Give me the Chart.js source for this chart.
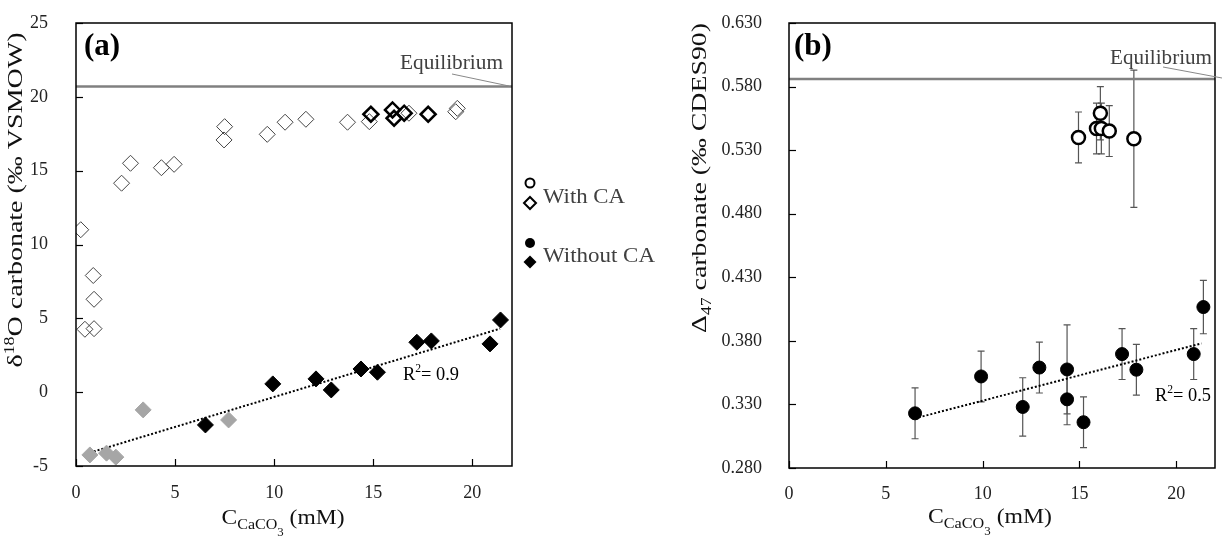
<!DOCTYPE html>
<html><head><meta charset="utf-8">
<script src="https://cdn.jsdelivr.net/npm/chart.js@4.4.1/dist/chart.umd.min.js"></script>
<style>
html,body{margin:0;padding:0;background:#fff;width:1224px;height:544px;overflow:hidden}
#ca{position:absolute;left:0;top:0}
#cb{position:absolute;left:680px;top:0}
</style></head><body>
<canvas id="ca" width="680" height="544"></canvas>
<canvas id="cb" width="544" height="544"></canvas>
<script>
// ---------- DATA ----------
// Panel (a): δ18O carbonate (‰ VSMOW) vs C_CaCO3 (mM)
const withCA_x      = [0.24, 2.3, 2.75, 4.31, 4.95, 7.5, 7.47, 9.65, 10.55, 11.6, 13.7, 14.8, 16.8, 19.24, 19.16, 0.87, 0.91, 0.45, 0.91];
const withCA_d18O   = [11.0, 14.15, 15.5, 15.2, 15.43, 17.98, 17.08, 17.46, 18.28, 18.48, 18.28, 18.32, 18.89, 19.22, 18.99, 7.9, 6.29, 4.26, 4.3];
const withCAclumped_x    = [14.88, 15.97, 16.05, 16.56, 17.77];
const withCAclumped_d18O = [18.82, 19.11, 18.55, 18.89, 18.82];
const withoutCAgray_x    = [0.70, 1.54, 2.01, 3.39, 7.7];
const withoutCAgray_d18O = [-4.25, -4.13, -4.4, -1.2, -1.88];
const withoutCA_x    = [6.53, 9.93, 12.11, 12.88, 14.38, 15.21, 17.2, 17.93, 20.89, 21.42];
const withoutCA_d18O = [-2.22, 0.56, 0.9, 0.15, 1.57, 1.35, 3.38, 3.47, 3.27, 4.89];
const trendA_x = [0.7, 21.4];
const trendA_y = [-4.1, 4.3];
const equilibriumA = 20.7;
const r2A_value = '= 0.9';

// Panel (b): Δ47 carbonate (‰ CDES90) vs C_CaCO3 (mM)
const withCA_b_x   = [14.95, 16.08, 15.88, 16.13, 16.54, 17.81];
const withCA_D47   = [0.540, 0.559, 0.547, 0.547, 0.545, 0.539];
const withCA_err   = [0.020, 0.021, 0.020, 0.020, 0.020, 0.054];
const withoutCA_b_x = [6.51, 9.92, 12.07, 12.93, 14.36, 14.36, 15.21, 17.2, 17.94, 20.9, 21.4];
const withoutCA_D47 = [0.323, 0.352, 0.328, 0.359, 0.3575, 0.334, 0.316, 0.3696, 0.3573, 0.3696, 0.4066];
const withoutCA_err = [0.020, 0.020, 0.023, 0.020, 0.035, 0.020, 0.020, 0.020, 0.020, 0.020, 0.021];
const trendB_x = [6.5, 21.3];
const trendB_y = [0.319, 0.378];
const equilibriumB = 0.586;
const r2B_value = '= 0.5';

const xTicksLabels = [0, 5, 10, 15, 20];

// ---------- helpers ----------
const SERIF = '"Liberation Serif", "Times New Roman", serif';
Chart.defaults.font.family = SERIF;
function font(size, bold){ return (bold ? 'bold ' : '') + size + 'px ' + SERIF; }
function pts(xs, ys){ return xs.map((x, i) => ({x: x, y: ys[i]})); }
function drawRich(ctx, x, y, segs, opts){
  let w = 0;
  segs.forEach(s => { ctx.font = font(s.size, s.bold); s.w = ctx.measureText(s.t).width; w += s.w; });
  const sx = opts.width ? opts.width / w : 1;
  ctx.save();
  ctx.translate(x, y);
  if (opts.rotate) ctx.rotate(opts.rotate);
  ctx.scale(sx, 1);
  let cx = opts.align === 'center' ? -w / 2 : (opts.align === 'right' ? -w : 0);
  ctx.fillStyle = opts.color || '#000';
  ctx.textBaseline = 'alphabetic'; ctx.textAlign = 'left';
  segs.forEach(s => { ctx.font = font(s.size, s.bold); ctx.fillText(s.t, cx, s.dy || 0); cx += s.w; });
  ctx.restore();
}
function drawFrame(chart){
  const {ctx, chartArea: a, scales: {x, y}} = chart;
  ctx.save();
  ctx.strokeStyle = '#000'; ctx.lineWidth = 1.5;
  ctx.strokeRect(a.left, a.top, a.right - a.left, a.bottom - a.top);
  ctx.lineWidth = 1.2;
  y.ticks.forEach(t => { const py = Math.round(y.getPixelForValue(t.value)) + 0.5;
    ctx.beginPath(); ctx.moveTo(a.left, py); ctx.lineTo(a.left + 7, py); ctx.stroke(); });
  x.ticks.forEach(t => { const px = Math.round(x.getPixelForValue(t.value)) + 0.5;
    ctx.beginPath(); ctx.moveTo(px, a.bottom); ctx.lineTo(px, a.bottom - 7); ctx.stroke(); });
  ctx.restore();
}
function drawErr(chart, xs, ys, es){
  const {ctx, scales: {x, y}} = chart;
  ctx.save(); ctx.strokeStyle = '#555'; ctx.lineWidth = 1.2;
  xs.forEach((xv, i) => {
    const px = x.getPixelForValue(xv);
    const y1 = y.getPixelForValue(ys[i] + es[i]);
    const y2 = y.getPixelForValue(ys[i] - es[i]);
    ctx.beginPath();
    ctx.moveTo(px, y1); ctx.lineTo(px, y2);
    ctx.moveTo(px - 3.5, y1); ctx.lineTo(px + 3.5, y1);
    ctx.moveTo(px - 3.5, y2); ctx.lineTo(px + 3.5, y2);
    ctx.stroke();
  });
  ctx.restore();
}
function diamond(ctx, cx, cy, r){ ctx.beginPath(); ctx.moveTo(cx, cy - r); ctx.lineTo(cx + r, cy); ctx.lineTo(cx, cy + r); ctx.lineTo(cx - r, cy); ctx.closePath(); }

function commonScales(yMin, yMax, yStep, yFmt, yPad, yWidth, xHeight, xPad){
  return {
    x: { type: 'linear', min: 0, max: 22,
         afterBuildTicks: s => { s.ticks = xTicksLabels.map(v => ({value: v})); },
         ticks: { font: {size: 18, family: SERIF}, color: '#222', padding: xPad, maxRotation: 0 },
         grid: { display: false, drawTicks: false }, border: { display: false },
         afterFit: s => { s.height = xHeight; s.paddingLeft = 0; s.paddingRight = 0; s.paddingTop = 0; s.paddingBottom = 0; } },
    y: { type: 'linear', min: yMin, max: yMax,
         ticks: { stepSize: yStep, includeBounds: false, font: {size: 18, family: SERIF}, color: '#222', padding: yPad,
                  callback: yFmt },
         grid: { display: false, drawTicks: false }, border: { display: false },
         afterFit: s => { s.width = yWidth; s.paddingTop = 0; s.paddingBottom = 0; s.paddingLeft = 0; s.paddingRight = 0; } }
  };
}

// ---------- Chart (a) ----------
const plugA = {
  id: 'plugA',
  afterDatasetsDraw(chart){
    const ctx = chart.ctx;
    drawFrame(chart);
    drawRich(ctx, 84, 55, [{t: '(a)', size: 31, bold: true}], {align: 'left'});
    drawRich(ctx, 400, 69, [{t: 'Equilibrium', size: 20}], {align: 'left', width: 103, color: '#404040'});
    ctx.save(); ctx.strokeStyle = '#888'; ctx.lineWidth = 1;
    ctx.beginPath(); ctx.moveTo(452, 74); ctx.lineTo(509, 86); ctx.stroke(); ctx.restore();
    drawRich(ctx, 403, 380, [{t: 'R', size: 19}, {t: '2', size: 12, dy: -8}, {t: r2A_value, size: 19}], {align: 'left', width: 56});
    drawRich(ctx, 283, 524, [{t: 'C', size: 22}, {t: 'CaCO', size: 15, dy: 5}, {t: '3', size: 12, dy: 12}, {t: ' (mM)', size: 22}],
             {align: 'center', width: 123, color: '#111'});
    drawRich(ctx, 22, 200, [{t: 'δ', size: 22}, {t: '18', size: 14, dy: -8}, {t: 'O carbonate (‰ VSMOW)', size: 22}],
             {align: 'center', width: 335, rotate: -Math.PI / 2, color: '#111'});
    // legend
    ctx.save();
    ctx.strokeStyle = '#000'; ctx.lineWidth = 2;
    ctx.beginPath(); ctx.arc(530, 183, 4.5, 0, Math.PI * 2); ctx.stroke();
    diamond(ctx, 530, 203, 6); ctx.stroke();
    ctx.fillStyle = '#000';
    ctx.beginPath(); ctx.arc(530, 243, 5, 0, Math.PI * 2); ctx.fill();
    diamond(ctx, 530, 262, 6.5); ctx.fill();
    ctx.restore();
    drawRich(ctx, 543, 203, [{t: 'With CA', size: 20}], {align: 'left', width: 82, color: '#404040'});
    drawRich(ctx, 543, 262, [{t: 'Without CA', size: 20}], {align: 'left', width: 112, color: '#404040'});
  }
};

new Chart(document.getElementById('ca'), {
  type: 'scatter',
  data: { datasets: [
    { label: 'With CA (clumped subset)', data: pts(withCAclumped_x, withCAclumped_d18O), pointStyle: 'rectRot', pointRadius: 7.5,
      borderColor: '#000', borderWidth: 2.5, backgroundColor: 'rgba(0,0,0,0)' },
    { label: 'With CA', data: pts(withCA_x, withCA_d18O), pointStyle: 'rectRot', pointRadius: 8,
      borderColor: '#444', borderWidth: 1, backgroundColor: 'rgba(0,0,0,0)' },
    { label: 'Without CA', data: pts(withoutCA_x, withoutCA_d18O), pointStyle: 'rectRot', pointRadius: 8,
      borderColor: '#000', borderWidth: 1, backgroundColor: '#000' },
    { label: 'Without CA (grey)', data: pts(withoutCAgray_x, withoutCAgray_d18O), pointStyle: 'rectRot', pointRadius: 8,
      borderColor: '#a6a6a6', borderWidth: 1, backgroundColor: '#a6a6a6' },
    { label: 'trend', data: pts(trendA_x, trendA_y), showLine: true, pointRadius: 0, borderColor: '#000',
      borderWidth: 2, borderDash: [2, 2] },
    { label: 'Equilibrium', data: pts([0, 22], [equilibriumA, equilibriumA]), showLine: true, pointRadius: 0,
      borderColor: '#808080', borderWidth: 2.5 }
  ]},
  options: {
    responsive: false, animation: false, events: [],
    layout: { padding: { left: 0, top: 23, right: 168, bottom: 0 } },
    plugins: { legend: { display: false }, tooltip: { enabled: false } },
    scales: commonScales(-5, 25, 5, v => String(v), 28, 76, 78, 16)
  },
  plugins: [plugA]
});

// ---------- Chart (b) ----------
const OX = 680;
const plugB = {
  id: 'plugB',
  beforeDatasetsDraw(chart){
    drawErr(chart, withoutCA_b_x, withoutCA_D47, withoutCA_err);
    drawErr(chart, withCA_b_x, withCA_D47, withCA_err);
  },
  afterDatasetsDraw(chart){
    const ctx = chart.ctx;
    drawFrame(chart);
    drawRich(ctx, 794 - OX, 55, [{t: '(b)', size: 31, bold: true}], {align: 'left'});
    drawRich(ctx, 1110 - OX, 64, [{t: 'Equilibrium', size: 20}], {align: 'left', width: 102, color: '#404040'});
    ctx.save(); ctx.strokeStyle = '#888'; ctx.lineWidth = 1;
    ctx.beginPath(); ctx.moveTo(1163 - OX, 67); ctx.lineTo(1222 - OX, 78); ctx.stroke(); ctx.restore();
    drawRich(ctx, 1155 - OX, 401, [{t: 'R', size: 19}, {t: '2', size: 12, dy: -8}, {t: r2B_value, size: 19}], {align: 'left', width: 56});
    drawRich(ctx, 990 - OX, 523, [{t: 'C', size: 22}, {t: 'CaCO', size: 15, dy: 5}, {t: '3', size: 12, dy: 12}, {t: ' (mM)', size: 22}],
             {align: 'center', width: 124, color: '#111'});
    drawRich(ctx, 706 - OX, 178, [{t: 'Δ', size: 22}, {t: '47', size: 14, dy: 5}, {t: ' carbonate (‰ CDES90)', size: 22}],
             {align: 'center', width: 310, rotate: -Math.PI / 2, color: '#111'});
  }
};

new Chart(document.getElementById('cb'), {
  type: 'scatter',
  data: { datasets: [
    { label: 'With CA', data: pts(withCA_b_x, withCA_D47), pointStyle: 'circle', pointRadius: 6.5,
      borderColor: '#000', borderWidth: 2.5, backgroundColor: '#fff' },
    { label: 'Without CA', data: pts(withoutCA_b_x, withoutCA_D47), pointStyle: 'circle', pointRadius: 6.5,
      borderColor: '#000', borderWidth: 1, backgroundColor: '#000' },
    { label: 'trend', data: pts(trendB_x, trendB_y), showLine: true, pointRadius: 0, borderColor: '#000',
      borderWidth: 2, borderDash: [2, 2] },
    { label: 'Equilibrium', data: pts([0, 22], [equilibriumB, equilibriumB]), showLine: true, pointRadius: 0,
      borderColor: '#808080', borderWidth: 2.5 }
  ]},
  options: {
    responsive: false, animation: false, events: [],
    layout: { padding: { left: 0, top: 23, right: 1, bottom: 0 } },
    plugins: { legend: { display: false }, tooltip: { enabled: false } },
    scales: commonScales(0.28, 0.63, 0.05, v => Number(v).toFixed(3), 27, 109, 76, 15)
  },
  plugins: [plugB]
});
</script></body></html>
